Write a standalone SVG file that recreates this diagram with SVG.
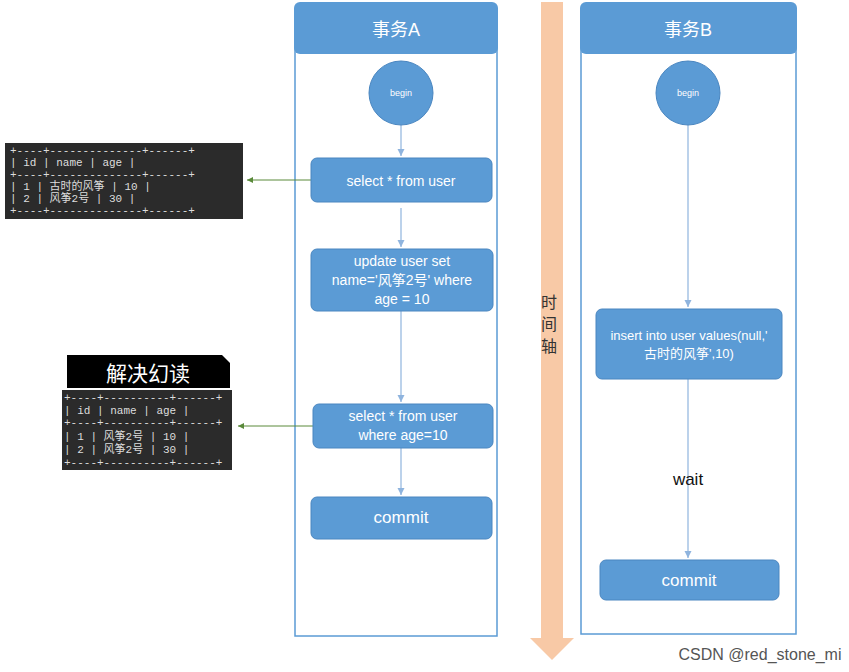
<svg xmlns="http://www.w3.org/2000/svg" width="849" height="672" viewBox="0 0 849 672">
<style>
.lane{fill:#fff;stroke:#5b9bd5;stroke-width:1.5}
.hdr{fill:#5b9bd5}
.box{fill:#5b9bd5;stroke:#4a86c0;stroke-width:1}
.t{font-family:"Liberation Sans","Noto Sans CJK SC",sans-serif;fill:#fff;text-anchor:middle}
.m{font-family:"Liberation Mono","Noto Sans CJK SC",monospace;fill:#ddd;font-size:11px}
.c{stroke:#8fb4de;stroke-width:1.2;fill:none;marker-end:url(#a)}
.g{stroke:#5a8a3a;stroke-width:1;fill:none;marker-end:url(#ag)}
</style>
<defs>
<marker id="a" markerWidth="8" markerHeight="8" refX="6" refY="3" orient="auto"><path d="M0,0L6,3L0,6z" fill="#8fb4de"/></marker>
<marker id="ag" markerWidth="8" markerHeight="8" refX="6" refY="3" orient="auto"><path d="M0,0L6,3L0,6z" fill="#5a8a3a"/></marker>
</defs>
<rect width="849" height="672" fill="#fff"/>
<g id="timeline">
<rect x="541" y="2" width="22" height="638" fill="#f8c9a6"/>
<path d="M530,638L574,638L552,660z" fill="#f8c9a6"/>
<text x="549" y="308" font-size="16" font-family="Noto Sans CJK SC,sans-serif" fill="#333" text-anchor="middle">时</text>
<text x="549" y="330" font-size="16" font-family="Noto Sans CJK SC,sans-serif" fill="#333" text-anchor="middle">间</text>
<text x="549" y="352" font-size="16" font-family="Noto Sans CJK SC,sans-serif" fill="#333" text-anchor="middle">轴</text>
</g>
<g id="laneA">
<rect class="lane" x="295" y="40" width="202" height="596"/>
<rect class="hdr" x="294" y="2" width="204" height="52" rx="6"/>
<text class="t" x="396" y="36" font-size="18">事务A</text>
</g>
<g id="laneB">
<rect class="lane" x="581" y="40" width="215" height="594"/>
<rect class="hdr" x="580" y="2" width="217" height="52" rx="6"/>
<text class="t" x="688" y="36" font-size="18">事务B</text>
</g>
<g id="connectors">
<path class="c" d="M401,125V156"/>
<path class="c" d="M401,208V247"/>
<path class="c" d="M401,311V402"/>
<path class="c" d="M401,448V495"/>
<path class="c" d="M688,125V307"/>
<path class="c" d="M688,379V558"/>
<path class="g" d="M311,180H247"/>
<path class="g" d="M313,426H238"/>
</g>
<g id="beginA"><circle cx="401" cy="93" r="32" class="box"/><text class="t" x="401" y="96" font-size="9">begin</text></g>
<g id="selectA"><rect class="box" x="311" y="158" width="181" height="44" rx="6"/><text class="t" x="401" y="186" font-size="14">select * from user</text></g>
<g id="updateA"><rect class="box" x="311" y="249" width="182" height="62" rx="6"/>
<text class="t" x="402" y="266" font-size="14">update user set</text>
<text class="t" x="402" y="285" font-size="14">name='风筝2号' where</text>
<text class="t" x="402" y="304" font-size="14">age = 10</text></g>
<g id="select2A"><rect class="box" x="313" y="404" width="180" height="44" rx="6"/>
<text class="t" x="403" y="421" font-size="14">select * from user</text>
<text class="t" x="403" y="440" font-size="14">where age=10</text></g>
<g id="commitA"><rect class="box" x="311" y="497" width="181" height="42" rx="6"/><text class="t" x="401" y="523" font-size="17">commit</text></g>
<g id="beginB"><circle cx="688" cy="93" r="32" class="box"/><text class="t" x="688" y="96" font-size="9">begin</text></g>
<g id="insertB"><rect class="box" x="596" y="309" width="186" height="70" rx="6"/>
<text class="t" x="689" y="340" font-size="13">insert into user values(null,'</text>
<text class="t" x="689" y="358" font-size="13">古时的风筝',10)</text></g>
<g id="wait"><text x="688" y="485" font-size="17" font-family="Liberation Sans,sans-serif" text-anchor="middle" fill="#111">wait</text></g>
<g id="commitB"><rect class="box" x="600" y="560" width="179" height="40" rx="6"/><text class="t" x="689" y="586" font-size="17">commit</text></g>
<g id="table1">
<rect x="5" y="143" width="238" height="76" fill="#2b2b2b"/>
<text class="m" x="10" y="154">+----+--------------+------+</text>
<text class="m" x="10" y="166">| id | name         | age  |</text>
<text class="m" x="10" y="178">+----+--------------+------+</text>
<text class="m" x="10" y="190">|  1 | 古时的风筝   |   10 |</text>
<text class="m" x="10" y="202">|  2 | 风筝2号      |   30 |</text>
<text class="m" x="10" y="214">+----+--------------+------+</text>
</g>
<g id="table2">
<path d="M67,355H222L230,363V388H67z" fill="#000"/>
<text x="148" y="381" font-size="21" font-family="Noto Sans CJK SC,sans-serif" fill="#fff" text-anchor="middle">解决幻读</text>
<rect x="62" y="390" width="170" height="80" fill="#2b2b2b"/>
<text class="m" x="64" y="401" font-size="10">+----+----------+------+</text>
<text class="m" x="64" y="414" font-size="10">| id | name     | age  |</text>
<text class="m" x="64" y="426" font-size="10">+----+----------+------+</text>
<text class="m" x="64" y="440" font-size="10">|  1 | 风筝2号  |   10 |</text>
<text class="m" x="64" y="453" font-size="10">|  2 | 风筝2号  |   30 |</text>
<text class="m" x="64" y="466" font-size="10">+----+----------+------+</text>
</g>
<text x="760" y="660" font-size="16" font-family="Liberation Sans,sans-serif" fill="#555" text-anchor="middle">CSDN @red_stone_mi</text>
</svg>
